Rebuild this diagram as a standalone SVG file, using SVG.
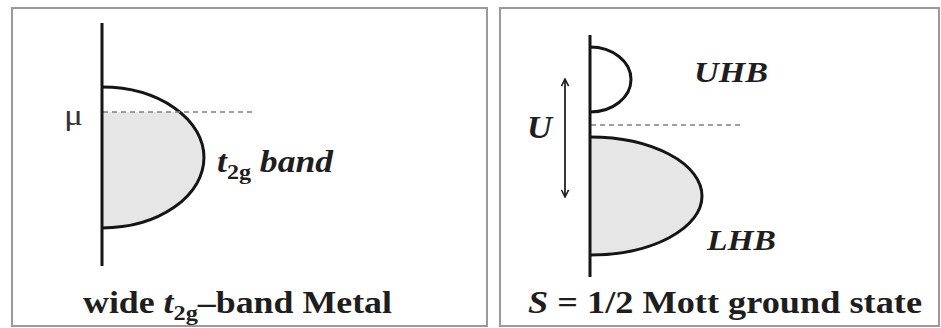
<svg xmlns="http://www.w3.org/2000/svg" width="941" height="328" viewBox="0 0 941 328">
<style>
.panel{fill:#fff;stroke:#9a9a9a;stroke-width:2}
.axis{stroke:#151515;stroke-width:3;fill:none}
.band{stroke:#151515;stroke-width:3;fill:none}
.fill{fill:#e6e6e6;stroke:none}
.dash{stroke:#808080;stroke-width:1.5;stroke-dasharray:5,4;fill:none}
.lbl{font-family:"Liberation Serif","Times New Roman",serif;font-weight:bold;fill:#1e1e1e}
.mu{font-family:"Liberation Serif","Times New Roman",serif;fill:#333}
.it{font-style:italic}
</style>
<defs>
<marker id="ah" viewBox="0 0 10 10" refX="9" refY="5" markerWidth="9" markerHeight="9" orient="auto-start-reverse" markerUnits="userSpaceOnUse">
<path d="M1,1 L9,5 L1,9" fill="none" stroke="#222" stroke-width="1.8"/>
</marker>
</defs>
<rect width="941" height="328" fill="#fff"/>
<g id="panel-metal">
<rect class="panel" x="12" y="8" width="475" height="318"/>
<path class="fill" d="M102,112 L179.9,112 A102,70.5 0 0 1 102,228 Z"/>
<path class="band" d="M102,87 A102,70.5 0 0 1 102,228"/>
<line class="dash" x1="103" y1="112" x2="252" y2="112"/>
<line class="axis" x1="102" y1="23" x2="102" y2="266"/>
<text class="mu" x="64" y="125" font-size="30" textLength="19" lengthAdjust="spacingAndGlyphs">μ</text>
<text class="lbl" x="217" y="172" font-size="31" textLength="116" lengthAdjust="spacingAndGlyphs"><tspan class="it">t</tspan><tspan font-size="21" dy="7">2g</tspan><tspan class="it" dy="-7"> band</tspan></text>
<text class="lbl" x="83" y="313" font-size="31" textLength="309" lengthAdjust="spacingAndGlyphs">wide <tspan class="it">t</tspan><tspan font-size="21" dy="7">2g</tspan><tspan dy="-7">–band Metal</tspan></text>
</g>
<g id="panel-mott">
<rect class="panel" x="500" y="8" width="439" height="318"/>
<path class="fill" d="M590,137 A112,59 0 0 1 590,255 Z"/>
<path class="band" d="M590,137 A112,59 0 0 1 590,255"/>
<path class="band" d="M590,47 A41,32.5 0 0 1 590,112"/>
<line class="dash" x1="591" y1="125" x2="740" y2="125"/>
<line class="axis" x1="590" y1="35" x2="590" y2="277"/>
<text class="lbl it" x="694" y="82" font-size="30" textLength="74" lengthAdjust="spacingAndGlyphs">UHB</text>
<text class="lbl it" x="707" y="250" font-size="30" textLength="69" lengthAdjust="spacingAndGlyphs">LHB</text>
<text class="lbl it" x="527" y="138" font-size="32" textLength="25" lengthAdjust="spacingAndGlyphs">U</text>
<text class="lbl" x="528" y="313" font-size="31" textLength="394" lengthAdjust="spacingAndGlyphs"><tspan class="it">S</tspan> = 1/2 Mott ground state</text>
</g>
<g id="connectors">
<line x1="565" y1="79" x2="565" y2="197" stroke="#222" stroke-width="1.8" marker-start="url(#ah)" marker-end="url(#ah)"/>
</g>
</svg>
